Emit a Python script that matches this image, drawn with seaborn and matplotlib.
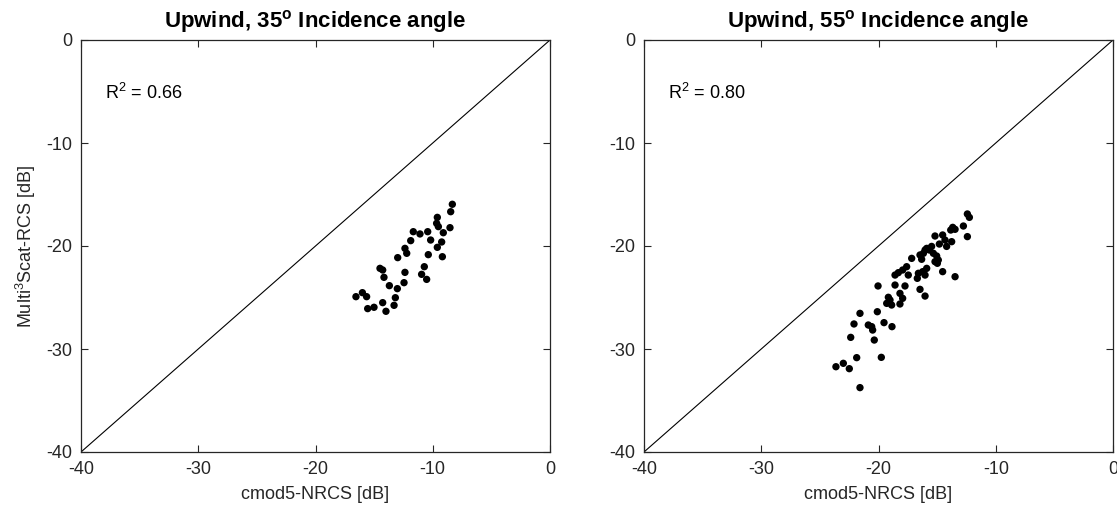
import numpy as np
import pandas as pd
import matplotlib
matplotlib.use("Agg")
import matplotlib.pyplot as plt
import seaborn as sns

# ---- data ----
titles = ["Upwind, 35$^\\mathbf{o}$ Incidence angle", "Upwind, 55$^\\mathbf{o}$ Incidence angle"]
r2_labels = ["R$^2$ = 0.66", "R$^2$ = 0.80"]

cmod5_35 = [-8.33, -8.47, -9.61, -9.67, -9.52, -9.10, -8.53, -11.66, -11.09, -10.43,
            -10.18, -9.24, -9.61, -11.88, -12.37, -12.22, -12.99, -10.38, -9.18, -10.72,
            -10.95, -10.52, -14.50, -14.27, -14.16, -12.37, -12.45, -13.70, -13.02, -16.55,
            -16.00, -15.64, -15.55, -15.01, -14.27, -13.99, -13.19, -13.30]
multi_35 = [-15.95, -16.67, -17.22, -17.80, -18.12, -18.71, -18.22, -18.61, -18.83, -18.61,
            -19.42, -19.61, -20.13, -19.48, -20.23, -20.71, -21.13, -20.84, -21.04, -22.01,
            -22.75, -23.24, -22.17, -22.33, -23.04, -22.56, -23.56, -23.85, -24.14, -24.92,
            -24.53, -24.92, -26.08, -25.95, -25.50, -26.34, -25.02, -25.76]

cmod5_55 = [-12.42, -12.25, -12.76, -12.42, -13.67, -13.84, -13.47, -14.53, -15.18, -14.33,
            -13.76, -14.81, -14.19, -15.47, -15.89, -16.03, -15.66, -15.32, -16.17, -16.46,
            -15.04, -14.90, -16.32, -15.18, -14.98, -17.17, -14.53, -13.47, -15.89, -16.23,
            -16.03, -16.60, -16.69, -17.60, -17.94, -18.31, -18.59, -17.46, -18.59, -17.74,
            -16.46, -20.04, -16.03, -18.17, -17.94, -19.16, -19.30, -18.88, -18.17, -19.02,
            -20.10, -21.58, -22.09, -20.87, -20.58, -20.50, -19.53, -18.85, -22.37, -20.36,
            -21.86, -19.76, -23.63, -23.00, -22.49, -21.58]
multi_55 = [-16.89, -17.22, -18.06, -19.09, -18.19, -18.45, -18.38, -18.93, -19.03, -19.42,
            -19.58, -19.81, -20.04, -20.04, -20.23, -20.39, -20.39, -20.71, -20.71, -20.87,
            -20.97, -21.36, -21.29, -21.52, -21.68, -21.20, -22.49, -22.98, -22.17, -22.49,
            -22.82, -22.65, -23.14, -22.01, -22.33, -22.59, -22.82, -22.82, -23.79, -23.88,
            -24.21, -23.88, -24.86, -24.60, -25.08, -24.98, -25.57, -25.73, -25.63, -25.24,
            -26.38, -26.54, -27.57, -27.67, -27.83, -28.16, -27.44, -27.83, -28.87, -29.13,
            -30.84, -30.81, -31.72, -31.39, -31.91, -33.75]

diag = [-40, 0]
ticks = [-40, -30, -20, -10, 0]

# ---- style ----
sns.set_theme(style="white")
plt.rcParams["font.family"] = ["Liberation Sans", "DejaVu Sans"]
plt.rcParams["mathtext.fontset"] = "custom"
plt.rcParams["mathtext.rm"] = "Liberation Sans"
plt.rcParams["mathtext.it"] = "Liberation Sans:italic"
plt.rcParams["mathtext.bf"] = "Liberation Sans:bold"
plt.rcParams["axes.unicode_minus"] = False

tc = "#262626"
fig = plt.figure(figsize=(11.17, 5.15), dpi=100)
W, H = 1117, 515
axes = [fig.add_axes([81 / W, 1 - 452 / H, 469 / W, 412 / H]),
        fig.add_axes([644 / W, 1 - 452 / H, 469 / W, 412 / H])]

datasets = [(cmod5_35, multi_35), (cmod5_55, multi_55)]
for i, ax in enumerate(axes):
    xs, ys = datasets[i]
    df = pd.DataFrame({"cmod5": xs, "multi": ys})
    sns.lineplot(x=diag, y=diag, ax=ax, color="black", linewidth=0.8)
    sns.scatterplot(data=df, x="cmod5", y="multi", ax=ax, color="black",
                    s=28, edgecolor="none", linewidth=0, zorder=3)
    ax.set_xlim(-40, 0)
    ax.set_ylim(-40, 0)
    ax.set_xticks(ticks)
    ax.set_yticks(ticks)
    ax.tick_params(direction="in", length=5, width=0.8, colors=tc,
                   labelsize=13, pad=6.5, top=True, right=True,
                   bottom=True, left=True)
    for sp in ax.spines.values():
        sp.set_color(tc)
        sp.set_linewidth(0.9)
        sp.set_visible(True)
    ax.set_xlabel("cmod5-NRCS [dB]", fontsize=13, color=tc, labelpad=6)
    if i == 0:
        ax.set_ylabel("Multi$^3$Scat-RCS [dB]", fontsize=13, color=tc, labelpad=6)
    else:
        ax.set_ylabel("")
    ax.set_title(titles[i], fontsize=16, fontweight="bold", color="black", pad=9)
    ax.text(-37.95, -5.15, r2_labels[i], fontsize=13, color="black",
            ha="left", va="center")
    ax.grid(False)

fig.savefig("out.png", dpi=100, facecolor="white")
